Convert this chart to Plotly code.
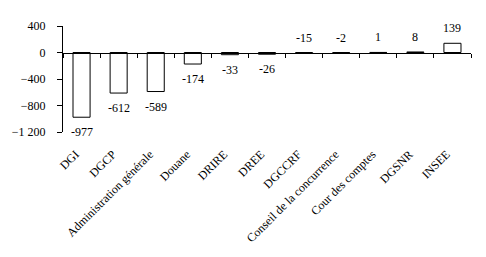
import plotly.graph_objects as go

categories = ["DGI", "DGCP", "Administration générale", "Douane", "DRIRE", "DREE",
              "DGCCRF", "Conseil de la concurrence", "Cour des comptes", "DGSNR", "INSEE"]
values = [-977, -612, -589, -174, -33, -26, -15, -2, 1, 8, 139]
y_ticks = [400, 0, -400, -800, -1200]

FONT = "Liberation Serif"
fig = go.Figure()
fig.add_trace(go.Bar(x=categories, y=values, marker=dict(color="white", line=dict(color="black", width=1)),
                     width=0.46, showlegend=False, hoverinfo="skip", xaxis="x"))
# invisible trace carrying the low-positioned category labels
fig.add_trace(go.Scatter(x=categories, y=[0]*len(categories), mode="markers", marker=dict(opacity=0),
                         showlegend=False, hoverinfo="skip", xaxis="x2"))

for c, v in zip(categories, values):
    if v < -20:
        fig.add_annotation(x=c, y=v, text=str(v), showarrow=False, yanchor="top", yshift=-6,
                           font=dict(family=FONT, size=12, color="black"))
    else:
        fig.add_annotation(x=c, y=max(v, 0), text=str(v), showarrow=False, yanchor="bottom", yshift=6,
                           font=dict(family=FONT, size=12, color="black"))

fig.update_layout(
    width=486, height=257, margin=dict(l=59, r=15, t=26, b=125),
    paper_bgcolor="white", plot_bgcolor="white",
    font=dict(family=FONT, size=12, color="black"),
    bargap=0.54,
    xaxis=dict(type="category", range=[-0.5, 10.5], anchor="free", position=0.75,
               showline=True, linecolor="black", linewidth=1, ticks="outside", ticklen=4,
               tickcolor="black", tickson="boundaries", showticklabels=False, showgrid=False,
               zeroline=False, fixedrange=True),
    xaxis2=dict(type="category", range=[-0.5, 10.5], overlaying="x", anchor="y", side="bottom",
                showline=False, ticks="", showticklabels=True, tickangle=-45, showgrid=False,
                zeroline=False, ticklabelstandoff=12, ticklabelshift=-6,
                tickfont=dict(family=FONT, size=12)),
    yaxis=dict(range=[-1200, 400], tickvals=y_ticks, showline=True, linecolor="black", linewidth=1,
               ticks="outside", ticklen=5, tickcolor="black", showgrid=False, zeroline=False,
               separatethousands=True, ticklabelstandoff=9, tickfont=dict(family=FONT, size=12)),
    separators=", ",
)
fig.write_html("out.html")
